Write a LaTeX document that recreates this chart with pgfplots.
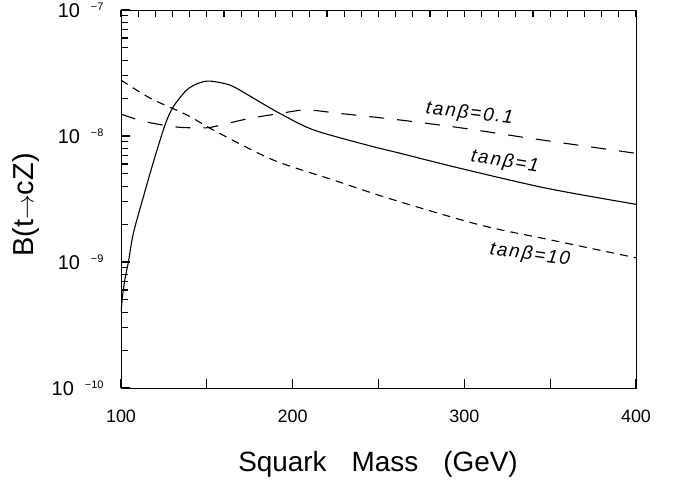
\documentclass[border=0pt]{standalone}
\usepackage{pgfplots}
\pgfplotsset{compat=1.18}
\usepackage{fontspec}
\setmainfont{Liberation Sans}
\newfontfamily\widefont[LetterSpace=10]{Liberation Sans}
\newcommand{\yexp}[1]{10\hspace{11bp}\raisebox{6.4bp}{\fontsize{11}{11}\selectfont #1}}

\pgfplotstableread{
x y
100 4.0e-10
101 5.5e-10
102.2 7.2e-10
104.3 1.0e-9
107.2 1.69e-9
112.5 3.1e-9
119 6.3e-9
125.6 1.22e-8
130.5 1.71e-8
138.3 2.32e-8
145 2.62e-8
150.8 2.73e-8
158 2.65e-8
165.4 2.47e-8
179 1.93e-8
192.6 1.51e-8
212 1.12e-8
243 8.5e-9
262.5 7.3e-9
297.4 5.55e-9
347.9 3.85e-9
400 2.87e-9
}\tanone

\pgfplotstableread{
x y
100 1.49e-8
112 1.32e-8
124.6 1.22e-8
135 1.17e-8
146 1.16e-8
152 1.17e-8
160 1.24e-8
175 1.38e-8
192.6 1.51e-8
208 1.61e-8
227.5 1.51e-8
262.5 1.34e-8
300 1.15e-8
338.2 9.6e-9
393.5 7.5e-9
400 7.3e-9
}\tanpointone

\pgfplotstableread{
x y
100 2.78e-8
116.9 2.0e-8
138.3 1.47e-8
155.7 1.08e-8
188.7 6.45e-9
223.6 4.48e-9
256 3.2e-9
309 1.97e-9
350 1.5e-9
400 1.08e-9
}\tanten

\begin{document}
\begin{tikzpicture}[x=1bp,y=1bp]
\begin{axis}[name=ax, at={(0,0)}, anchor=south west,
  scale only axis, width=515bp, height=378bp,
  xmin=100, xmax=400, ymode=log, ymin=1e-10, ymax=1e-7,
  axis line style={line width=0.9bp},
  tick align=inside, major tick length=9bp,
  every tick/.style={draw=black, line width=1.1bp},
  xtick={100,150,...,400}, xticklabels={100,{},200,{},300,{},400},
  xtick pos=left,
  ytick={1e-10,1e-9,1e-8,1e-7},
  yticklabels={{\yexp{−10}},{\yexp{−9}},{\yexp{−8}},{\yexp{−7}}},
  ytick pos=left,
  yminorticks=false, xminorticks=false,
  xticklabel style={font=\fontsize{18}{18}\selectfont, anchor=base, yshift=-34bp},
  yticklabel style={font=\fontsize{20}{20}\selectfont, anchor=base east, xshift=-14bp, yshift=-7bp},
  xlabel={Squark\hspace{25bp}Mass\hspace{25bp}(GeV)},
  xlabel style={at={(axis description cs:0.499,-0.222)}, anchor=base, font=\fontsize{28}{28}\selectfont},
  ylabel={B(t$\rightarrow$cZ)},
  ylabel style={at={(axis description cs:-0.184,0.484)}, anchor=center, font=\fontsize{29}{29}\selectfont},
]
\addplot[black, line width=1.1bp, smooth, tension=0.5] table[x=x,y=y] {\tanone};
\addplot[black, line width=1.1bp, smooth, tension=0.5, dash pattern=on 15bp off 13bp] table[x=x,y=y] {\tanpointone};
\addplot[black, line width=1.1bp, smooth, tension=0.5, dash pattern=on 8bp off 6bp] table[x=x,y=y] {\tanten};
\node[rotate=-7, font=\fontsize{19}{19}\selectfont\widefont\itshape] at (axis cs:303,1.5e-8) {tanβ=0.1};
\node[rotate=-9, font=\fontsize{19}{19}\selectfont\widefont\itshape] at (axis cs:323.6,6.2e-9) {tanβ=1};
\node[rotate=-8, font=\fontsize{19}{19}\selectfont\widefont\itshape] at (axis cs:338.2,1.14e-9) {tanβ=10};
\end{axis}
\begin{axis}[at={(0,0)}, anchor=south west,
  scale only axis, width=515bp, height=378bp,
  xmin=100, xmax=400, ymode=log, ymin=1e-10, ymax=1e-7,
  axis line style={line width=0.9bp},
  tick align=inside, major tick length=7bp,
  every tick/.style={draw=black, line width=1.1bp},
  xtick={100,110,120,130,140,150,160,170,180,190,200,210,220,230,240,250,260,270,280,290,300,310,320,330,340,350,360,370,380,390,400},
  xticklabel={\mbox{}}, xtick pos=right,
  ytick={2e-10,3e-10,4e-10,5e-10,6e-10,7e-10,8e-10,9e-10,
         2e-9,3e-9,4e-9,5e-9,6e-9,7e-9,8e-9,9e-9,
         2e-8,3e-8,4e-8,5e-8,6e-8,7e-8,8e-8,9e-8},
  yticklabels={}, ytick pos=left,
  yminorticks=false, xminorticks=false,
]
\end{axis}
\pgfresetboundingbox
\path[use as bounding box] (-121,-98) rectangle (558,388);
\end{tikzpicture}
\end{document}
